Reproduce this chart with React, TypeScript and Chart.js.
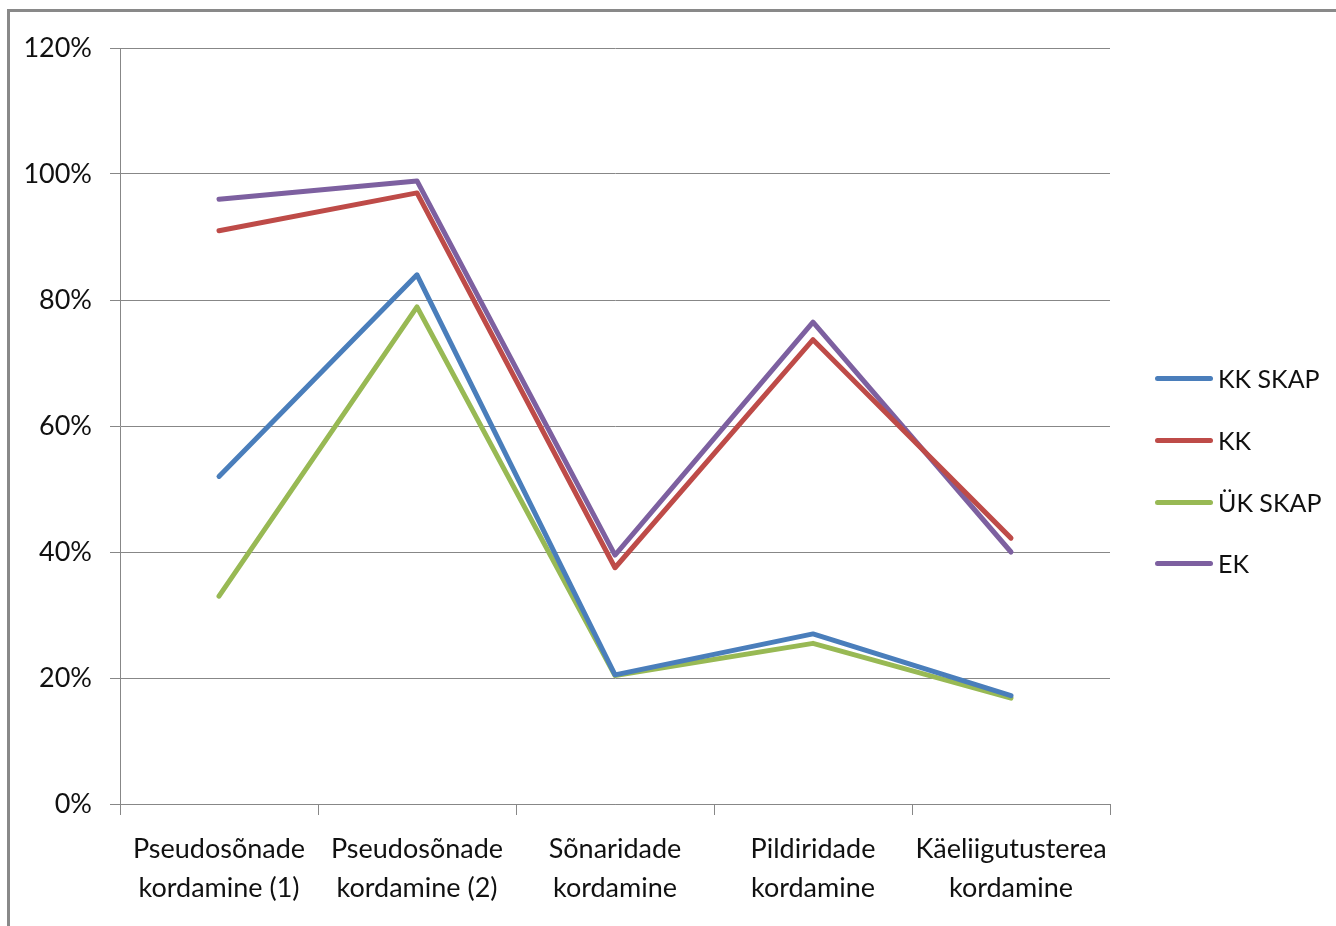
import React, { useEffect, useRef } from "react";
import { Chart, registerables } from "chart.js";

Chart.register(...registerables);

const categories: string[][] = [
  ["Pseudosõnade", "kordamine (1)"],
  ["Pseudosõnade", "kordamine (2)"],
  ["Sõnaridade", "kordamine"],
  ["Pildiridade", "kordamine"],
  ["Käeliigutusterea", "kordamine"],
];

const seriesNames = ["KK SKAP", "KK", "ÜK SKAP", "EK"];
const seriesColors = ["#4A7EBB", "#BE4B48", "#98B954", "#7D60A0"];

const kkSkap = [52, 84, 20.5, 27, 17.2];
const kk = [91, 97, 37.5, 73.7, 42.2];
const ukSkap = [33, 78.9, 20.4, 25.5, 16.8];
const ek = [96, 98.9, 39.5, 76.5, 40];

const seriesValues = [kkSkap, kk, ukSkap, ek];

const yTicks = { min: 0, max: 120, step: 20 };

const FONT = "Lato, 'Open Sans', sans-serif";
const GRID = "#878787";

export default function App() {
  const ref = useRef<HTMLCanvasElement | null>(null);

  useEffect(() => {
    if (!ref.current) return;
    const chart = new Chart(ref.current, {
      type: "line",
      data: {
        labels: categories,
        datasets: seriesNames.map((name, i) => ({
          label: name,
          data: seriesValues[i],
          borderColor: seriesColors[i],
          backgroundColor: seriesColors[i],
          borderWidth: 5,
          pointRadius: 0,
          pointHoverRadius: 0,
          tension: 0,
          borderJoinStyle: "round" as const,
          borderCapStyle: "round" as const,
          fill: false,
        })),
      },
      options: {
        animation: false,
        responsive: false,
        maintainAspectRatio: false,
        devicePixelRatio: 1,
        layout: { padding: { top: 48, right: 226, bottom: 0, left: 0 } },
        plugins: {
          legend: { display: false },
          tooltip: { enabled: false },
          title: { display: false },
        },
        scales: {
          x: {
            type: "category",
            offset: true,
            grid: {
              offset: true,
              drawOnChartArea: false,
              drawTicks: true,
              tickLength: 11,
              color: GRID,
              lineWidth: 1,
            },
            border: { display: true, color: GRID, width: 1 },
            ticks: {
              color: "#111",
              font: { family: FONT, size: 27, lineHeight: 1.45 },
              padding: 15,
              maxRotation: 0,
              autoSkip: false,
            },
            afterFit: (s: any) => {
              s.height = 122;
            },
          },
          y: {
            min: yTicks.min,
            max: yTicks.max,
            grid: {
              color: GRID,
              lineWidth: 1,
              drawTicks: true,
              tickLength: 10,
            },
            border: { display: true, color: GRID, width: 1 },
            ticks: {
              stepSize: yTicks.step,
              color: "#111",
              font: { family: FONT, size: 27 },
              padding: 18,
              callback: (v: any) => `${v}%`,
            },
            afterFit: (s: any) => {
              s.width = 120;
            },
          },
        },
      },
    });
    return () => chart.destroy();
  }, []);

  const legendTops = [378, 440, 502, 563];

  return (
    <div>
      <div
        style={{
          position: "fixed",
          left: 7,
          top: 9,
          width: 1329,
          height: 917,
          borderTop: "3px solid #898989",
          borderLeft: "3px solid #898989",
          boxSizing: "border-box",
          background: "#fff",
        }}
      />
      <canvas
        ref={ref}
        width={1336}
        height={926}
        style={{ position: "fixed", left: 0, top: 0, width: 1336, height: 926 }}
      />
      {seriesNames.map((name, i) => (
        <div
          key={name}
          style={{
            position: "fixed",
            left: 1155,
            top: legendTops[i] - 20,
            height: 40,
            display: "flex",
            alignItems: "center",
            fontFamily: FONT,
            fontSize: 25,
            color: "#111",
            whiteSpace: "nowrap",
          }}
        >
          <span
            style={{
              display: "inline-block",
              width: 58,
              height: 5,
              borderRadius: 3,
              background: seriesColors[i],
              marginRight: 5,
            }}
          />
          <span>{name}</span>
        </div>
      ))}
    </div>
  );
}
